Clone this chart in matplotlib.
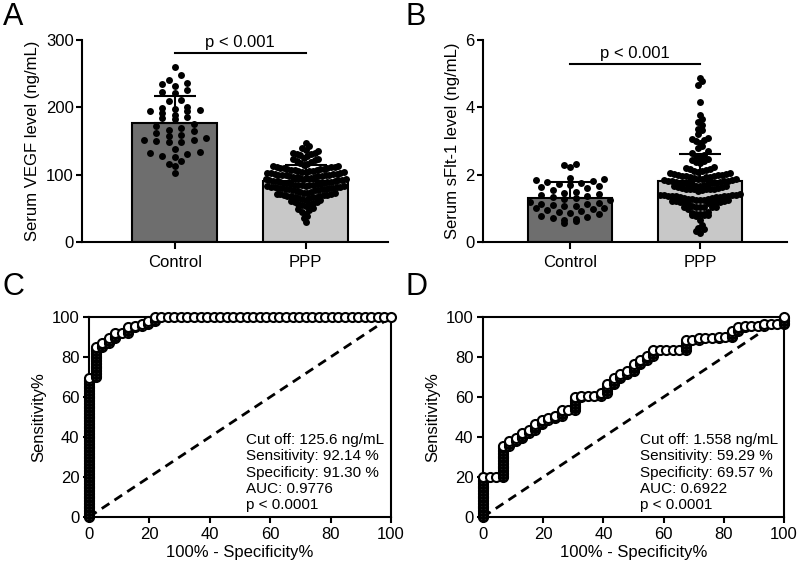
import numpy as np
import matplotlib
matplotlib.use("Agg")
import matplotlib.pyplot as plt

plt.rcParams['font.family'] = ['Liberation Sans', 'DejaVu Sans']

# ========== data ==========
groups = ["Control", "PPP"]

# panel A: serum VEGF (ng/mL)
vegf_control = [260, 248, 240, 236, 235, 232, 226, 223, 222, 211, 209, 200, 199, 198, 196, 195,
                194, 191, 189, 186, 184, 182, 175, 173, 169, 167, 165, 162, 159, 158, 154, 152,
                151, 150, 149, 148, 138, 133, 132, 131, 127, 126, 121, 116, 113, 102]
vegf_ppp = [30, 35, 38, 42, 45, 47, 49, 51, 53, 55,
            56, 57, 58, 59, 60, 61, 62, 63, 64, 65,
            66, 66.5, 67, 67.5, 68, 68.5, 69, 69.5, 70, 70.5, 71, 71.5, 72, 72.5, 73, 73.5, 74, 75,
            76, 76.5, 77, 77.5, 78, 78.3, 78.6, 79, 79.5, 80, 80.3, 80.6, 81, 81.5, 82, 82.3, 82.6,
            83, 83.5, 84, 84.3, 84.6, 85, 85.3, 85.6,
            86, 86.5, 87, 87.5, 88, 88.5, 89, 89.5, 90, 90.5, 91, 91.5, 92, 92.5, 93, 93.5,
            94, 94.5, 95, 95.5, 96, 96.5, 97, 97.5, 98, 98.5, 99, 99.5, 100, 100.5, 101, 101.5,
            100.2, 99.2,
            102, 102.5, 103, 103.5, 104, 104.5, 105, 105.5, 106, 106.5, 107, 107.5, 108, 108.5,
            109, 109.5, 110, 110.5, 111, 111.5, 112, 112.5,
            113.5, 114.5, 115.5, 117, 118.5, 120, 122, 123, 124, 125,
            128, 129, 130, 130.5, 131.5, 132.5, 135, 137, 140, 143, 147]
vegf_mean = [176.5, 90]
vegf_sd = [40, 24]

# panel B: serum sFlt-1 (ng/mL)
sflt_control = [2.32, 2.29, 2.24, 1.89, 1.86, 1.83, 1.80, 1.77, 1.74, 1.71, 1.68, 1.66, 1.63, 1.60,
                1.54, 1.50, 1.46, 1.43, 1.40, 1.37, 1.34, 1.30,
                1.27, 1.24, 1.20, 1.17, 1.14, 1.12, 1.10, 1.08,
                1.06, 1.02, 1.00, 0.97, 0.95, 0.92, 0.89, 0.86, 0.82, 0.78, 0.74, 0.70,
                0.67, 0.64, 0.61, 0.57]
sflt_ppp = [4.88, 4.78, 4.65, 4.16, 3.77, 3.64, 3.55, 3.47, 3.37, 3.32, 3.20, 3.10, 3.07, 3.03,
            3.01, 2.93, 2.85, 2.78, 2.70, 2.64, 2.58, 2.54, 2.50, 2.47, 2.44, 2.41, 2.38, 2.35,
            2.22, 2.20, 2.18, 2.16, 2.14, 2.12, 2.10, 2.08, 2.06, 2.05, 2.03, 2.02, 2.00, 1.99,
            1.98, 1.97, 1.96, 1.95, 1.94, 1.93, 1.92, 1.91,
            1.88, 1.875, 1.87, 1.85, 1.84, 1.825, 1.82, 1.815, 1.81, 1.79, 1.78,
            1.765, 1.76, 1.755, 1.75, 1.735, 1.73, 1.72, 1.70, 1.675, 1.67,
            1.655, 1.65, 1.645, 1.64,
            1.595, 1.59, 1.585, 1.58, 1.575, 1.57, 1.565, 1.56, 1.55, 1.52,
            1.42, 1.41, 1.395, 1.39, 1.385, 1.38, 1.378, 1.375, 1.36, 1.355, 1.35, 1.345,
            1.33, 1.32, 1.31, 1.29, 1.28, 1.265, 1.26, 1.255, 1.25, 1.245,
            1.23, 1.22, 1.21, 1.19, 1.185, 1.18, 1.165, 1.16, 1.155, 1.15,
            1.055, 1.05, 1.045, 1.04, 1.035, 1.03, 1.025,
            0.99, 0.90, 0.85, 0.845, 0.84, 0.835, 0.81, 0.80, 0.79, 0.76, 0.66,
            0.50, 0.42, 0.38, 0.33, 0.28]
sflt_mean = [1.31, 1.80]
sflt_sd = [0.47, 0.81]

roc_text_c = "Cut off: 125.6 ng/mL\nSensitivity: 92.14 %\nSpecificity: 91.30 %\nAUC: 0.9776\np < 0.0001"
roc_text_d = "Cut off: 1.558 ng/mL\nSensitivity: 59.29 %\nSpecificity: 69.57 %\nAUC: 0.6922\np < 0.0001"

bar_colors = ["#6e6e6e", "#c8c8c8"]
LW = 1.5


def dot_offsets(values, px_per_y, dot_px=7.0, width_px=80.0, max_gap=12.5):
    # graphpad-like scatter: bin by rows, spread each row around the centre
    vals = np.asarray(values, float)
    rows = np.floor(vals * px_per_y / dot_px).astype(int)
    uniq, counts = np.unique(rows, return_counts=True)
    gap = min(max_gap, width_px / max(counts.max() - 1, 1))
    offs = np.zeros(len(vals))
    for r in uniq:
        idx = np.where(rows == r)[0]
        idx = idx[np.argsort(vals[idx])]
        n = len(idx)
        slots = (np.arange(n) - (n - 1) / 2) * gap
        slots = slots[np.argsort(np.abs(slots), kind="stable")]
        offs[idx] = slots
    return offs


def roc_curve(pos, neg, pos_higher):
    pos = np.asarray(pos, float)
    neg = np.asarray(neg, float)
    allv = np.unique(np.concatenate([pos, neg]))
    cuts = np.concatenate([[allv[0] - 1], (allv[:-1] + allv[1:]) / 2, [allv[-1] + 1]])
    if pos_higher:
        cuts = cuts[::-1]
        tpr = np.array([(pos > c).mean() for c in cuts]) * 100
        fpr = np.array([(neg > c).mean() for c in cuts]) * 100
    else:
        tpr = np.array([(pos < c).mean() for c in cuts]) * 100
        fpr = np.array([(neg < c).mean() for c in cuts]) * 100
    return fpr, tpr


fig = plt.figure(figsize=(8, 5.71), dpi=100)
W, H = 800, 571


def px_axes(l, t, r, b):
    return fig.add_axes([l / W, 1 - b / H, (r - l) / W, (b - t) / H])


def bar_panel(ax, ctrl, ppp, means, sds, ymax, yticks, ylabel, xlim, sig_y, txt_y):
    ax.set_xlim(*xlim)
    ax.set_ylim(0, ymax)
    x = np.arange(2)
    ax.bar(x, means, width=0.65, color=bar_colors, edgecolor="black", linewidth=LW, zorder=1)
    bb = ax.get_window_extent()
    px_y = bb.height / ymax
    px_x = bb.width / (xlim[1] - xlim[0])
    for i, vals in enumerate([ctrl, ppp]):
        off = dot_offsets(vals, px_y) / px_x
        ax.scatter(i + off, vals, s=25, color="black", linewidths=0, zorder=3, clip_on=False)
    ax.errorbar(x, means, yerr=[[0, 0], sds], fmt="none", ecolor="black",
                elinewidth=LW, capsize=15, capthick=LW, zorder=4)
    ax.plot([0, 1], [sig_y, sig_y], color="black", lw=LW, clip_on=False)
    ax.text(0.5, txt_y, "p < 0.001", ha="center", va="baseline", fontsize=12)
    ax.spines[["top", "right"]].set_visible(False)
    for s in ["left", "bottom"]:
        ax.spines[s].set_linewidth(LW)
    ax.set_yticks(yticks)
    ax.set_xticks(x)
    ax.set_xticklabels(groups)
    ax.tick_params(axis="y", length=4, width=LW, pad=2, labelsize=12)
    ax.tick_params(axis="x", length=5, width=LW, pad=4, labelsize=12)
    ax.set_ylabel(ylabel, fontsize=12, labelpad=4)


def roc_panel(ax, fpr, tpr, text):
    ax.plot([0, 100], [0, 100], color="black", lw=2, dashes=(3.3, 2.2), zorder=1)
    ax.plot(fpr, tpr, color="black", lw=1.2, marker="o", markersize=6.5, mfc="white",
            mec="black", mew=1.5, clip_on=False, zorder=3)
    ax.set_xlim(0, 100)
    ax.set_ylim(0, 100)
    ax.set_xticks(range(0, 101, 20))
    ax.set_yticks(range(0, 101, 20))
    for s in ax.spines.values():
        s.set_linewidth(LW)
    ax.tick_params(length=4, width=LW, pad=3, labelsize=12)
    ax.set_xlabel("100% - Specificity%", fontsize=12, labelpad=2)
    ax.set_ylabel("Sensitivity%", fontsize=12, labelpad=4)
    ax.text(52, 2.5, text, ha="left", va="bottom", fontsize=11, linespacing=1.2)


axA = px_axes(82, 40, 388, 242)
bar_panel(axA, vegf_control, vegf_ppp, vegf_mean, vegf_sd, 300, [0, 100, 200, 300],
          "Serum VEGF level (ng/mL)", (-0.71, 1.63), 281, 289)

axB = px_axes(483, 40, 787, 242)
bar_panel(axB, sflt_control, sflt_ppp, sflt_mean, sflt_sd, 6, [0, 2, 4, 6],
          "Serum sFlt-1 level (ng/mL)", (-0.67, 1.67), 5.28, 5.47)

axC = px_axes(89, 317, 391, 517)
fc, tc = roc_curve(vegf_ppp, vegf_control, pos_higher=False)
roc_panel(axC, fc, tc, roc_text_c)

axD = px_axes(483, 317, 784, 517)
fd, td = roc_curve(sflt_ppp, sflt_control, pos_higher=True)
roc_panel(axD, fd, td, roc_text_d)

for lab, x, y in [("A", 3, 2), ("B", 405, 2), ("C", 3, 272), ("D", 405, 272)]:
    fig.text(x / W, 1 - y / H, lab, ha="left", va="top", fontsize=22)

fig.savefig("out.png", dpi=100)
